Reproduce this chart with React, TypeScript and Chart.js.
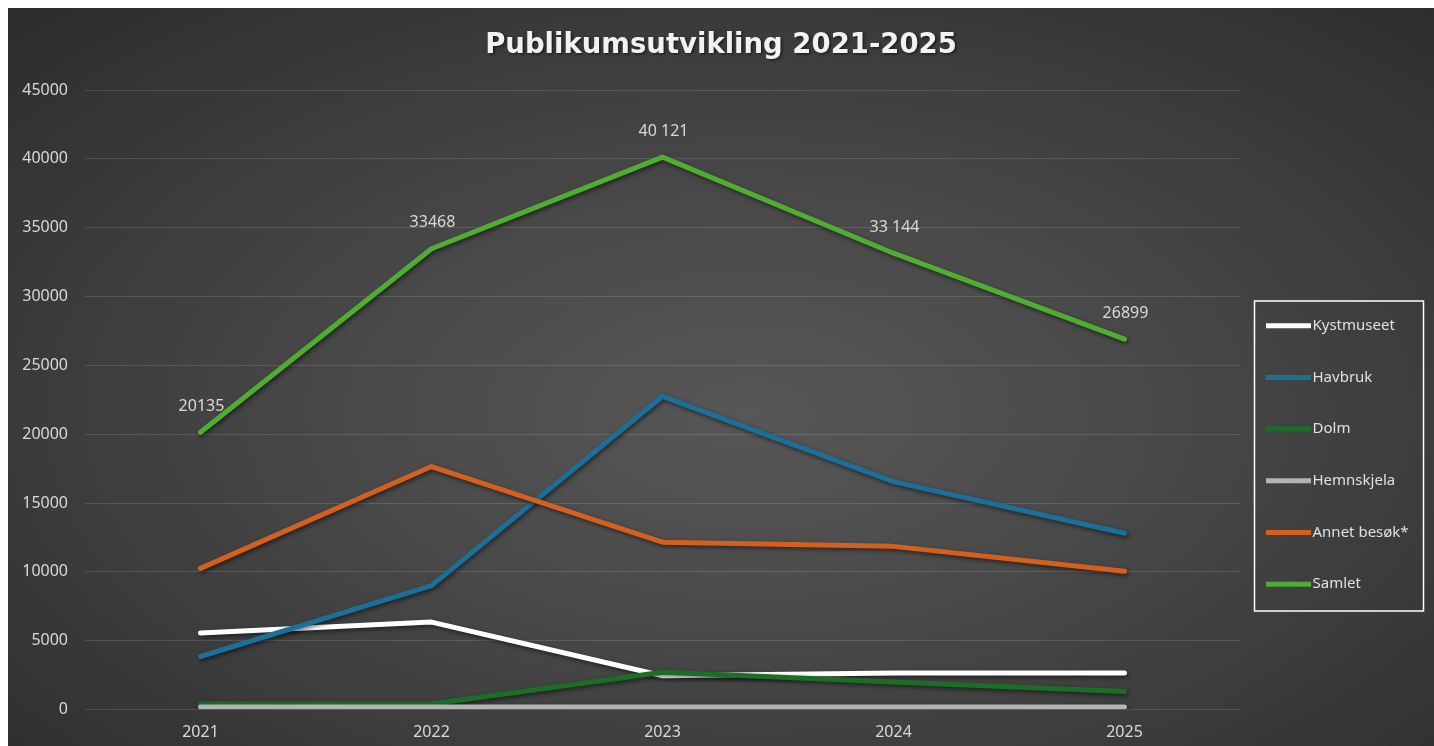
import React, { useEffect, useRef } from "react";
import { Chart, registerables } from "chart.js";

Chart.register(...registerables);

const years = ["2021", "2022", "2023", "2024", "2025"];
const kystmuseet = [5550, 6350, 2450, 2650, 2650];
const havbruk = [3850, 9000, 22750, 16550, 12800];
const dolm = [400, 400, 2700, 2000, 1300];
const hemnskjela = [180, 180, 180, 180, 180];
const annetBesok = [10250, 17650, 12150, 11850, 10050];
const samlet = [20135, 33468, 40121, 33144, 26899];
const samletLabels = ["20135", "33468", "40 121", "33 144", "26899"];
const seriesNames = ["Kystmuseet", "Havbruk", "Dolm", "Hemnskjela", "Annet besøk*", "Samlet"];
const seriesColors = ["#ffffff", "#1b6f98", "#1c6e27", "#b3b3b3", "#d4601f", "#4fae32"];
const yMin = 0;
const yMax = 45000;
const yStep = 5000;
const titleText = "Publikumsutvikling 2021-2025";

const seriesValues = [kystmuseet, havbruk, dolm, hemnskjela, annetBesok, samlet];

const shadowPlugin = {
  id: "lineShadow",
  afterInit(chart: any) {
    const tb = chart.titleBlock;
    if (tb && !tb.__shadowWrapped) {
      const orig = tb.draw.bind(tb);
      tb.draw = (...args: any[]) => {
        const ctx = chart.ctx;
        ctx.save();
        ctx.shadowColor = "rgba(0,0,0,0.6)";
        ctx.shadowBlur = 3;
        ctx.shadowOffsetX = 1.5;
        ctx.shadowOffsetY = 1.5;
        orig(...args);
        ctx.restore();
      };
      tb.__shadowWrapped = true;
    }
  },
  beforeDatasetDraw(chart: any) {
    const ctx = chart.ctx;
    ctx.save();
    ctx.shadowColor = "rgba(0,0,0,0.55)";
    ctx.shadowBlur = 4;
    ctx.shadowOffsetX = 1.5;
    ctx.shadowOffsetY = 2;
  },
  afterDatasetDraw(chart: any) {
    chart.ctx.restore();
  },
};

const dataLabelPlugin = {
  id: "samletLabels",
  afterDatasetsDraw(chart: any) {
    const idx = chart.data.datasets.length - 1;
    const meta = chart.getDatasetMeta(idx);
    const ctx = chart.ctx;
    ctx.save();
    ctx.font = "16px 'Noto Sans'";
    ctx.fillStyle = "#d9d9d9";
    ctx.textAlign = "center";
    ctx.textBaseline = "middle";
    meta.data.forEach((el: any, i: number) => {
      ctx.fillText(samletLabels[i], el.x + 1, el.y - 26);
    });
    ctx.restore();
  },
};

const legendPlugin = {
  id: "boxLegend",
  afterDraw(chart: any) {
    const ctx = chart.ctx;
    const area = chart.chartArea;
    const boxX = area.right + 14.5;
    const boxY = 293;
    const boxW = 169;
    const boxH = 310;
    ctx.save();
    ctx.strokeStyle = "#ffffff";
    ctx.lineWidth = 1.5;
    ctx.strokeRect(boxX, boxY, boxW, boxH);
    ctx.font = "15px 'Noto Sans'";
    ctx.textAlign = "left";
    ctx.textBaseline = "middle";
    chart.data.datasets.forEach((ds: any, i: number) => {
      const y = boxY + 24.7 + i * 51.7;
      ctx.strokeStyle = ds.borderColor;
      ctx.lineWidth = 5;
      ctx.lineCap = "butt";
      ctx.beginPath();
      ctx.moveTo(boxX + 11.5, y);
      ctx.lineTo(boxX + 56.5, y);
      ctx.stroke();
      ctx.fillStyle = "#e0e0e0";
      ctx.fillText(ds.label, boxX + 58, y);
    });
    ctx.restore();
  },
};

export default function App() {
  const canvasRef = useRef<HTMLCanvasElement | null>(null);

  useEffect(() => {
    if (!canvasRef.current) return;
    Chart.defaults.font.family = "'Noto Sans'";
    const datasets = seriesNames.map((name, i) => ({
      label: name,
      data: seriesValues[i],
      borderColor: seriesColors[i],
      backgroundColor: seriesColors[i],
      borderWidth: 5,
      pointRadius: 0,
      pointHoverRadius: 0,
      tension: 0,
      fill: false,
      borderCapStyle: "round" as const,
      borderJoinStyle: "round" as const,
      order: seriesNames.length - 1 - i,
      yAxisID: "y",
    }));
    const chart = new Chart(canvasRef.current, {
      type: "line",
      data: { labels: years, datasets },
      options: {
        animation: false,
        responsive: true,
        maintainAspectRatio: false,
        layout: { padding: 0 },
        plugins: {
          legend: { display: false },
          tooltip: { enabled: false },
          title: {
            display: true,
            text: titleText,
            color: "#f2f2f2",
            font: { family: "'DejaVu Sans'", size: 27.5, weight: "bold" },
            padding: { top: 21, bottom: 28 },
          },
        },
        scales: {
          x: {
            type: "category",
            offset: true,
            grid: { display: false, drawTicks: false },
            border: { display: false },
            ticks: { color: "#d9d9d9", font: { size: 16 }, padding: 13 },
            afterFit(scale: any) {
              scale.height = 36.5;
            },
          },
          y: {
            type: "linear",
            position: "left",
            min: yMin,
            max: yMax,
            grid: { color: "rgba(255,255,255,0.13)", lineWidth: 1, drawTicks: false },
            border: { display: false },
            ticks: {
              stepSize: yStep,
              color: "#d9d9d9",
              font: { size: 16 },
              padding: 17,
              callback: (v: any) => String(v),
            },
            afterFit(scale: any) {
              scale.width = 77;
            },
          },
          legendSpace: {
            type: "linear",
            position: "right",
            display: true,
            grid: { display: false, drawTicks: false },
            border: { display: false },
            ticks: { display: false },
            afterFit(scale: any) {
              scale.width = 194;
            },
          },
        },
      },
      plugins: [shadowPlugin, dataLabelPlugin, legendPlugin],
    });
    return () => chart.destroy();
  }, []);

  return (
    <div
      style={{
        position: "fixed",
        left: 8,
        top: 8,
        right: 0,
        bottom: 0,
        background:
          "radial-gradient(ellipse farthest-corner at 52% 55%, #575757 0%, #4a4a4a 35%, #3a3a3a 70%, #2c2c2c 100%)",
      }}
    >
      <canvas ref={canvasRef} />
    </div>
  );
}
